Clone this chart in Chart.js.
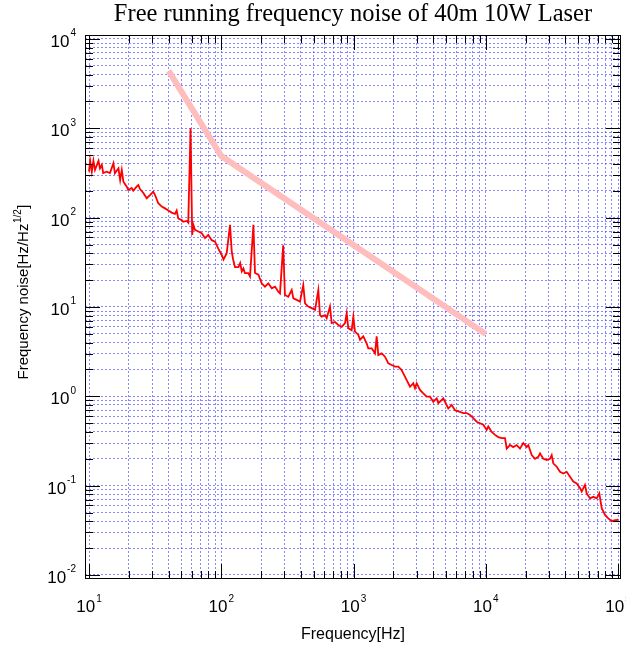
<!DOCTYPE html>
<html><head><meta charset="utf-8">
<script src="https://cdn.jsdelivr.net/npm/chart.js@4.4.1/dist/chart.umd.min.js"></script>
<style>html,body{margin:0;padding:0;background:#fff;}#wrap{width:626px;height:648px;position:relative;}</style>
</head><body><div id="wrap"><canvas id="c" width="626" height="648"></canvas></div>
<script>
// ---- data ----
const freq = [10,10.2,10.5,10.8,11.1,11.8,12.1,12.5,12.8,13.6,
14.4,15.3,15.7,16.7,17.2,17.7,18.2,19.3,19.8,21.0,
21.6,22.9,23.6,24.3,25.7,27.3,28.9,30.6,31.6,33.4,
35.5,37.6,39.8,42.2,44.7,46.0,47.3,50.2,51.6,54.8,
56.3,58.6,60.3,61.5,63.3,67.1,71.2,75.4,79.8,84.7,
89.7,95.0,101,104,110,116.5,120,123,127,135,
139,143,147,151,160,165,175,180,191,202,
214,227,241,255,270,278,294,303,321,341,
351,372,394,417,430,455,483,512,542,558,
575,609,627,664,684,725,768,814,863,888,
913,969,997,1026,1087,1120,1186,1259,1294,1373,
1454,1497,1540,1634,1730,1833,1945,2060,2182,2314,
2379,2525,2674,2832,2917,3005,3183,3371,3576,3787,
4011,4256,4376,4644,4775,4918,5208,5526,5853,6386,
6763,7175,7600,8050,8540,9045,9580,10160,10450,11090,
11750,12440,13200,13980,14400,15250,16150,17130,18150,19230,
20400,20980,22260,23570,24960,25720,27230,28890,30600,31520,
32410,34400,36420,38580,40930,43350,45910,48710,51590,53140,
56280,57980,61420,65060,69030,72220,75300,79750,84460,89630,
94900,97770,100000];
const noise = [327,434,327,434,342,434,357,389,316,327,
316,406,314,357,264,342,253,222,204,215,
200,222,232,209,190,165,179,195,179,145,
133,127,120,114,110,120,98,94,90,92,
88,1000,64,83,73,70,67,59,64,56,
54,45,38,34,40,83,42,34,28,28,
31,25,27,24,24,22,83,24,23,18.4,
16.9,18.4,16.2,16.9,14.8,14.2,49,13.6,13.0,15.5,
12.5,12.0,11.5,17.6,11.0,10.1,9.7,9.3,15.5,8.1,
7.8,8.1,7.5,10.1,6.6,6.8,6.3,6.0,6.6,8.5,
5.8,5.5,7.8,5.3,4.9,4.3,4.7,3.9,3.45,3.45,
3.03,4.7,2.9,3.03,2.78,2.34,2.24,2.15,2.15,1.97,
1.81,1.52,1.28,1.40,1.23,1.40,1.18,1.08,0.99,0.99,
0.87,0.95,0.84,0.91,0.95,0.87,0.73,0.80,0.70,0.67,
0.65,0.65,0.62,0.57,0.52,0.50,0.48,0.42,0.46,0.40,
0.37,0.35,0.34,0.34,0.26,0.285,0.27,0.285,0.26,0.30,
0.27,0.285,0.22,0.20,0.21,0.23,0.20,0.194,0.20,0.22,
0.178,0.163,0.143,0.137,0.143,0.126,0.111,0.106,0.094,0.086,
0.102,0.082,0.072,0.075,0.072,0.082,0.056,0.047,0.043,0.040,
0.041,0.041,0.042];
const refFreq = [40, 100, 10000];
const refNoise = [4400, 490, 5];
const xTickExponents = ['1','2','3','4','5'];
const yTickExponents = ['-2','-1','0','1','2','3','4'];
const titleText = 'Free running frequency noise of 40m 10W Laser';
const xTitle = 'Frequency[Hz]';
const yTitleMain = 'Frequency noise[Hz/Hz';
const yTitleSup = '1/2';
const yTitleEnd = ']';

const X_MIN = 9.327, X_MAX = 105360, Y_MIN = 0.00902, Y_MAX = 11085;

function logTicks(scale){
  const t = [];
  for (let e = -4; e <= 6; e++) for (let m = 1; m <= 9; m++) {
    const v = parseFloat((m * Math.pow(10, e)).toPrecision(6));
    if (v >= scale.min && v <= scale.max) t.push({value: v, major: m === 1});
  }
  scale.ticks = t;
}

function drawPow(ctx, exp, x, baseY, align){
  ctx.font = '17px "Liberation Sans", Arial, sans-serif';
  const wb = ctx.measureText('10').width;
  ctx.font = '10px "Liberation Sans", Arial, sans-serif';
  const we = ctx.measureText(exp).width;
  const total = wb + 1 + we;
  let left = align === 'center' ? x - total/2 : x - total;
  ctx.textAlign = 'left';
  ctx.textBaseline = 'alphabetic';
  ctx.font = '17px "Liberation Sans", Arial, sans-serif';
  ctx.fillText('10', left, baseY);
  ctx.font = '10px "Liberation Sans", Arial, sans-serif';
  ctx.fillText(exp, left + wb + 1, baseY - 10.5);
}

const frame = {
  id: 'frame',
  afterDraw(chart){
    const ctx = chart.ctx, a = chart.chartArea;
    const xs = chart.scales.x, ys = chart.scales.y;
    ctx.save();
    ctx.strokeStyle = '#000'; ctx.lineWidth = 1; ctx.setLineDash([]);
    ctx.strokeRect(Math.round(a.left)+0.5, Math.round(a.top)+0.5, Math.round(a.right-a.left)-1, Math.round(a.bottom-a.top)-1);
    ctx.beginPath();
    xs.ticks.forEach(t => {
      const px = Math.round(xs.getPixelForValue(t.value)) + 0.5;
      const L = t.major ? 15 : 8;
      ctx.moveTo(px, a.bottom); ctx.lineTo(px, a.bottom - L);
      ctx.moveTo(px, a.top); ctx.lineTo(px, a.top + L);
    });
    ys.ticks.forEach(t => {
      const py = Math.round(ys.getPixelForValue(t.value)) + 0.5;
      const L = t.major ? 15 : 8;
      ctx.moveTo(a.left, py); ctx.lineTo(a.left + L, py);
      ctx.moveTo(a.right, py); ctx.lineTo(a.right - L, py);
    });
    ctx.stroke();
    ctx.fillStyle = '#000';
    xTickExponents.forEach(e => {
      const px = xs.getPixelForValue(Math.pow(10, +e));
      drawPow(ctx, e, px, 612, 'center');
    });
    yTickExponents.forEach(e => {
      const py = ys.getPixelForValue(Math.pow(10, +e));
      drawPow(ctx, e, 76, py + 8, 'right');
    });
    // title
    ctx.font = '24.5px "Liberation Serif", "Times New Roman", serif';
    ctx.textAlign = 'center'; ctx.textBaseline = 'alphabetic';
    ctx.fillText(titleText, (a.left + a.right)/2, 21);
    // x title
    ctx.font = '16px "Liberation Sans", Arial, sans-serif';
    ctx.fillText(xTitle, (a.left + a.right)/2, 639);
    // y title (rotated)
    ctx.save();
    ctx.translate(28, 292);
    ctx.rotate(-Math.PI/2);
    ctx.font = '15px "Liberation Sans", Arial, sans-serif';
    const w1 = ctx.measureText(yTitleMain).width;
    const w3 = ctx.measureText(yTitleEnd).width;
    ctx.font = '10px "Liberation Sans", Arial, sans-serif';
    const w2 = ctx.measureText(yTitleSup).width;
    const tot = w1 + w2 + w3 + 1;
    let sx = -tot/2;
    ctx.textAlign = 'left';
    ctx.font = '15px "Liberation Sans", Arial, sans-serif';
    ctx.fillText(yTitleMain, sx, 0);
    ctx.font = '10px "Liberation Sans", Arial, sans-serif';
    ctx.fillText(yTitleSup, sx + w1 + 0.5, -7);
    ctx.font = '15px "Liberation Sans", Arial, sans-serif';
    ctx.fillText(yTitleEnd, sx + w1 + w2 + 1, 0);
    ctx.restore();
    ctx.restore();
  }
};

new Chart(document.getElementById('c'), {
  type: 'scatter',
  data: {
    datasets: [
      { label: 'Free running', data: freq.map((f,i)=>({x:f, y:noise[i]})), showLine: true,
        borderColor: '#ff0000', borderWidth: 1.8, pointRadius: 0, tension: 0, fill: false },
      { label: 'Reference', data: refFreq.map((f,i)=>({x:f, y:refNoise[i]})), showLine: true,
        borderColor: '#ffbdbd', borderWidth: 6, pointRadius: 0, tension: 0, fill: false }
    ]
  },
  options: {
    responsive: false, animation: false, devicePixelRatio: 1,
    layout: { padding: { left: 85, right: 5, top: 35, bottom: 69 } },
    plugins: { legend: { display: false }, tooltip: { enabled: false }, title: { display: false } },
    scales: {
      x: { type: 'logarithmic', min: X_MIN, max: X_MAX, afterBuildTicks: logTicks,
           ticks: { display: false, autoSkip: false },
           grid: { color: 'rgba(70,70,255,0.65)', lineWidth: 1, drawTicks: false },
           border: { display: false, dash: [2, 2] } },
      y: { type: 'logarithmic', min: Y_MIN, max: Y_MAX, afterBuildTicks: logTicks,
           ticks: { display: false, autoSkip: false },
           grid: { color: 'rgba(70,70,255,0.65)', lineWidth: 1, drawTicks: false },
           border: { display: false, dash: [2, 2] } }
    }
  },
  plugins: [frame]
});
</script>
</body></html>
